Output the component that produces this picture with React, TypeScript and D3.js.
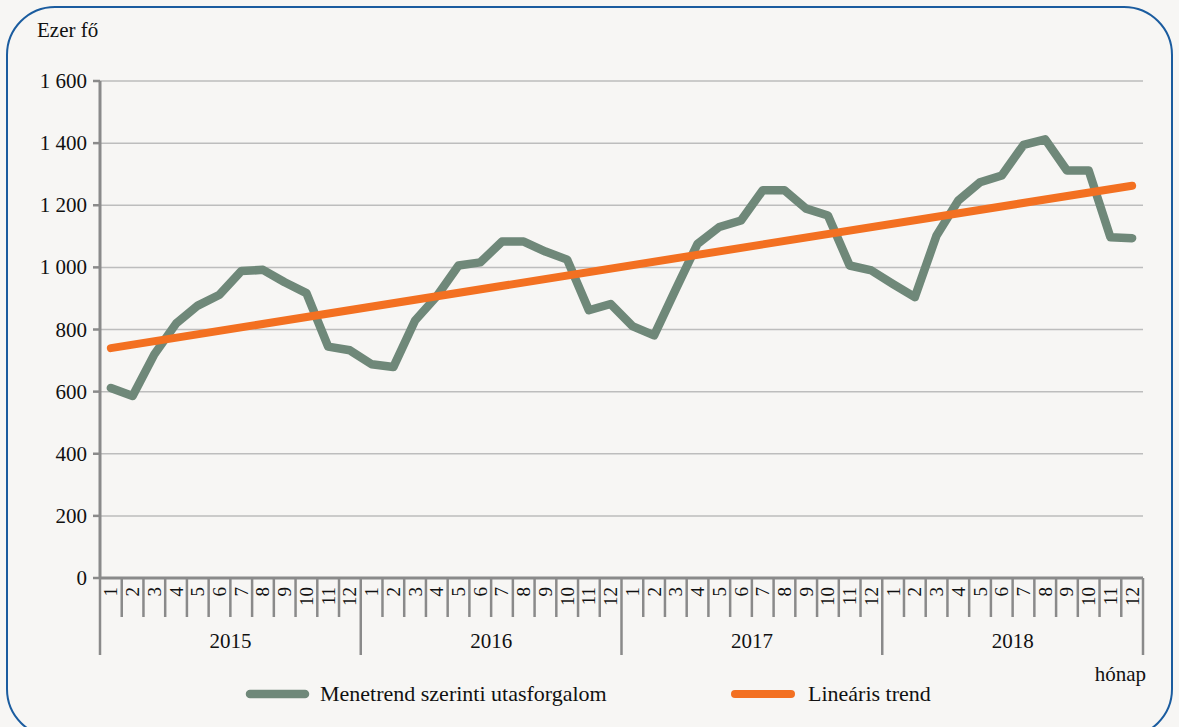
import React, { useEffect } from "react";
import * as d3 from "d3";

// havi adatok, ezer fő
const years = ["2015", "2016", "2017", "2018"];
const months = ["1", "2", "3", "4", "5", "6", "7", "8", "9", "10", "11", "12"];
const passengers = [
  612, 586, 720, 819, 877, 912, 988, 992, 952, 917, 745, 733,
  688, 679, 829, 907, 1006, 1016, 1083, 1083, 1051, 1025, 862, 882,
  811, 781, 930, 1076, 1130, 1151, 1248, 1248, 1189, 1167, 1006, 990,
  946, 904, 1103, 1215, 1274, 1296, 1394, 1412, 1312, 1312, 1097, 1094,
];
// lineáris trend: első és utolsó hónap
const trendMonths = [0, 47];
const trendValues = [740, 1263];
const yTicks = [0, 200, 400, 600, 800, 1000, 1200, 1400, 1600];

const W = 1179;
const H = 727;
const font = "Liberation Serif, DejaVu Serif, serif";
const green = "#6f8879";
const orange = "#f37021";

const fmt = (v: number) => (v >= 1000 ? Math.floor(v / 1000) + " " + String(v % 1000).padStart(3, "0") : String(v));

export default function App() {
  useEffect(() => {
    document.body.style.margin = "0";
  }, []);

  const idx = d3.range(passengers.length);
  const x = d3.scaleBand<number>().domain(idx).range([100, 1143]);
  const y = d3.scaleLinear().domain([0, 1600]).range([578, 81]);
  const cx = (i: number) => (x(i) as number) + x.bandwidth() / 2;

  const line = d3
    .line<number>()
    .x((d, i) => cx(i))
    .y((d) => y(d));
  const trendLine = d3
    .line<number>()
    .x((d, i) => cx(trendMonths[i]))
    .y((d) => y(d));

  const bounds = d3.range(passengers.length + 1);

  return (
    <svg width={W} height={H} style={{ display: "block", fontFamily: font }}>
      <rect width={W} height={H} fill="#f7f6f4" />
      <rect x={7} y={7} width={1165} height={730} rx={48} ry={48} fill="#f7f6f4" stroke="#1b5c9f" strokeWidth={2} />

      <text x={37} y={37} fontSize={21} fill="#111">Ezer fő</text>

      {yTicks.map((t) => (
        <g key={t}>
          {t > 0 && <line x1={100} x2={1143} y1={y(t)} y2={y(t)} stroke="#bdbdbd" strokeWidth={1.5} />}
          <line x1={93} x2={100} y1={y(t)} y2={y(t)} stroke="#8a8a8a" strokeWidth={2.5} />
          <text x={87} y={y(t) + 7} fontSize={21} textAnchor="end" fill="#111">{fmt(t)}</text>
        </g>
      ))}

      <line x1={100} x2={100} y1={y(1600)} y2={578} stroke="#8a8a8a" strokeWidth={3} />
      <line x1={99} x2={1143} y1={578} y2={578} stroke="#8a8a8a" strokeWidth={3} />

      {bounds.map((b) => {
        const bx = b < passengers.length ? (x(b) as number) : 1143;
        const isYear = b % 12 === 0;
        return <line key={b} x1={bx} x2={bx} y1={578} y2={isYear ? 655 : 617} stroke="#8a8a8a" strokeWidth={2.5} />;
      })}

      {idx.map((i) => (
        <text key={i} transform={`translate(${cx(i) + 6.5},587) rotate(-90)`} fontSize={19} textAnchor="end" fill="#111">
          {months[i % 12]}
        </text>
      ))}

      {years.map((yr, k) => (
        <text key={yr} x={((x(k * 12) as number) + (k === 3 ? 1143 : (x(k * 12 + 12) as number))) / 2} y={648} fontSize={21} textAnchor="middle" fill="#111">
          {yr}
        </text>
      ))}

      <text x={1146} y={681} fontSize={21} textAnchor="end" fill="#111">hónap</text>

      <path d={line(passengers) || ""} fill="none" stroke={green} strokeWidth={8.5} strokeLinejoin="round" strokeLinecap="round" />
      <path d={trendLine(trendValues) || ""} fill="none" stroke={orange} strokeWidth={8} strokeLinecap="round" />

      <line x1={250} x2={305} y1={694} y2={694} stroke={green} strokeWidth={8.5} strokeLinecap="round" />
      <text x={320} y={701} fontSize={22} fill="#111">Menetrend szerinti utasforgalom</text>
      <line x1={735} x2={791} y1={694} y2={694} stroke={orange} strokeWidth={8} strokeLinecap="round" />
      <text x={808} y={701} fontSize={22} fill="#111">Lineáris trend</text>
    </svg>
  );
}
